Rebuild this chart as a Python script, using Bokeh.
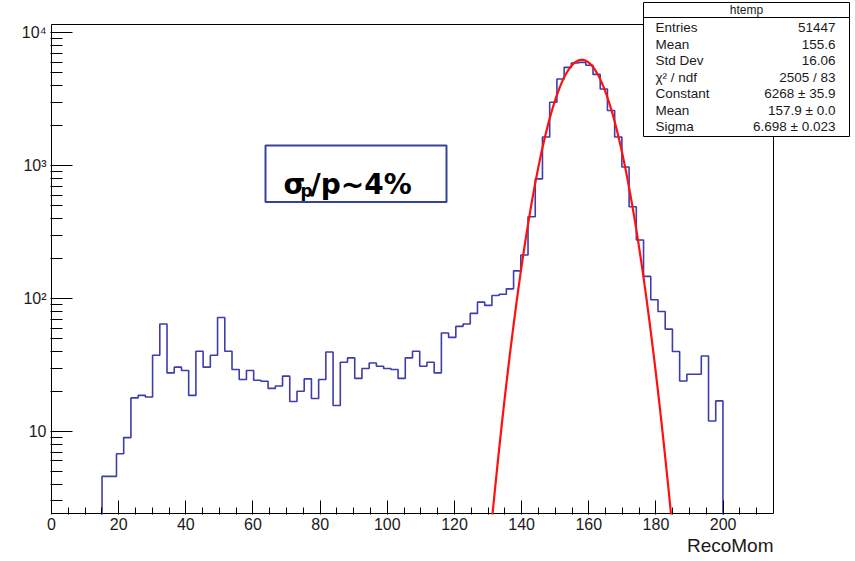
import numpy as np
from bokeh.plotting import figure
from bokeh.models import Range1d, FixedTicker, Title, LinearScale
from bokeh.embed import file_html
from bokeh.resources import INLINE
from bokeh.core.properties import value

# ---------------- data ----------------
x_min, x_max = 0.0, 215.0
n_bins = 100
first_bin = 7  # index of first non-empty bin
counts = [
    4.6, 4.6, 6.8, 9.0, 17.9, 18.7, 18.2, 37.5, 64.4, 27.6,
    30.5, 28.8, 18.7, 40.2, 30.5, 37.5, 72.2, 40.2, 29.3, 24.6,
    28.8, 24.3, 23.9, 21.1, 22.0, 26.1, 16.8, 20.1, 24.9, 17.7,
    24.6, 39.7, 15.7, 33.2, 35.8, 25.1, 29.8, 32.8, 31.0, 29.8,
    29.3, 25.1, 35.8, 40.2, 31.0, 33.2, 27.6, 55.1, 51.1, 61.8,
    64.4, 77.4, 94.1, 88.9, 105.6, 108.0, 118.5, 161.8, 213.0, 413.0,
    796.0, 1644.0, 3006.0, 4497.0, 5500.0, 5930.0, 6000.0, 5700.0, 4870.0, 3785.0,
    2608.0, 1644.0, 979.0, 491.0, 276.0, 147.0, 98.0, 80.0, 59.0, 40.0,
    24.0, 27.0, 27.0, 37.0, 12.0, 17.0,
]
fit_constant = 6268.0
fit_mean = 157.9
fit_sigma = 6.698

stats_title = "htemp"
stats_labels = ["Entries", "Mean", "Std Dev", "\u03c7\u00b2 / ndf", "Constant", "Mean", "Sigma"]
stats_values = ["51447", "155.6", "16.06", "2505 / 83", "6268 \u00b1 35.9", "157.9 \u00b1 0.0", "6.698 \u00b1 0.023"]

x_major = [0, 20, 40, 60, 80, 100, 120, 140, 160, 180, 200]
x_minor_step = 5
y_major = [10, 100, 1000, 10000]
y_major_labels = ["10", "10\u00b2", "10\u00b3", "10\u2074"]
x_title = "RecoMom"

# ---------------- layout (pixels) ----------------
W, H = 855, 561
FL, FR, FT, FB = 51, 773, 24, 513      # ROOT frame
BL, BR, BT, BB = 50, 850, 1, 514       # bokeh frame (extended to hold the stats box)
log_lo, log_hi = 0.383, 4.063

sx = (FR - FL) / (x_max - x_min)
x_range = Range1d(x_min - (FL - BL) / sx, x_max + (BR - FR) / sx)
lp = (log_hi - log_lo) / (FB - FT)
y_range = Range1d(10 ** (log_lo - (BB - FB) * lp), 10 ** (log_hi + (FT - BT) * lp))

p = figure(width=W, height=H, x_range=x_range, y_range=y_range, y_axis_type="log",
           output_backend="svg", toolbar_location=None,
           min_border_left=BL, min_border_right=W - BR, min_border_top=BT, min_border_bottom=H - BB)
p.outline_line_color = None
p.xgrid.visible = False
p.ygrid.visible = False
p.background_fill_color = "white"
p.border_fill_color = "white"

FONT = "Liberation Sans"
LBL = "#1a1a1a"

# x axis
x_minor = [float(v) for v in np.arange(x_min, x_max, x_minor_step) if v not in x_major and v > x_min]
p.xaxis.ticker = FixedTicker(ticks=x_major, minor_ticks=x_minor)
p.xaxis.axis_line_color = None
p.xaxis.major_tick_in = 14
p.xaxis.major_tick_out = 0
p.xaxis.minor_tick_in = 7
p.xaxis.minor_tick_out = 0
p.xaxis.major_tick_line_color = "black"
p.xaxis.minor_tick_line_color = "black"
p.xaxis.major_label_text_font = FONT
p.xaxis.major_label_text_font_size = "16px"
p.xaxis.major_label_text_color = LBL
p.xaxis.major_label_standoff = 3

# y axis
y_minor = [3, 4, 5, 6, 7, 8, 9]
for d in y_major[:-1]:
    y_minor += [d * k for k in range(2, 10)]
p.yaxis.ticker = FixedTicker(ticks=y_major, minor_ticks=y_minor)
p.yaxis.major_label_overrides = {v: s for v, s in zip(y_major, y_major_labels)}
p.yaxis.axis_line_color = None
p.yaxis.major_tick_in = 22
p.yaxis.major_tick_out = 0
p.yaxis.minor_tick_in = 12
p.yaxis.minor_tick_out = 0
p.yaxis.major_tick_line_color = "black"
p.yaxis.minor_tick_line_color = "black"
p.yaxis.major_label_text_font = FONT
p.yaxis.major_label_text_font_size = "16px"
p.yaxis.major_label_text_color = LBL
p.yaxis.major_label_standoff = 4

# ROOT frame
y_lo, y_hi = 10 ** log_lo, 10 ** log_hi
p.quad(left=[x_min], right=[x_max], bottom=[y_lo], top=[y_hi],
       fill_color=None, line_color="black", line_width=1)

# histogram outline
edges = np.linspace(x_min, x_max, n_bins + 1)
floor = y_lo / 10
hx, hy = [edges[first_bin]], [floor]
for i, c in enumerate(counts):
    hx += [edges[first_bin + i], edges[first_bin + i + 1]]
    hy += [c, c]
hx.append(edges[first_bin + len(counts)])
hy.append(floor)
p.line(hx, hy, line_color="#3d3dab", line_width=1.6)

# gaussian fit
xf = np.linspace(fit_mean - 5 * fit_sigma, fit_mean + 5 * fit_sigma, 400)
yf = fit_constant * np.exp(-0.5 * ((xf - fit_mean) / fit_sigma) ** 2)
p.line(xf, yf, line_color="#ff1010", line_width=2.2)

# pixel overlay ranges (linear, y downwards)
p.extra_x_ranges = {"px": Range1d(BL, BR)}
p.extra_y_ranges = {"px": Range1d(BB, BT)}
p.extra_x_scales = {"px": LinearScale()}
p.extra_y_scales = {"px": LinearScale()}
kw = dict(x_range_name="px", y_range_name="px")

# stats box
p.quad(left=[643], right=[849], top=[2], bottom=[136], fill_color="white",
       line_color="black", line_width=1, **kw)
p.segment(x0=[643], y0=[17], x1=[849], y1=[17], line_color="black", line_width=1, **kw)
p.text(x=[746], y=[9.5], text=[stats_title], text_font=value(FONT), text_font_size="12px",
       text_align="center", text_baseline="middle", text_color=LBL, **kw)
rows = [27 + 16.5 * i for i in range(len(stats_labels))]
p.text(x=[655] * len(rows), y=rows, text=stats_labels, text_font=value(FONT),
       text_font_size="13.5px", text_align="left", text_baseline="middle", text_color=LBL, **kw)
p.text(x=[835] * len(rows), y=rows, text=stats_values, text_font=value(FONT),
       text_font_size="13.5px", text_align="right", text_baseline="middle", text_color=LBL, **kw)

# sigma annotation box
p.quad(left=[265], right=[446], top=[145], bottom=[201.5], fill_color="white",
       line_color="#34449a", line_width=2, **kw)
BF = "DejaVu Sans"
p.text(x=[283], y=[184], text=["\u03c3"], text_font=value(BF), text_font_style="bold",
       text_font_size="28px", text_align="left", text_baseline="alphabetic", text_color="black", **kw)
p.text(x=[300], y=[190], text=["p"], text_font=value(BF), text_font_style="bold",
       text_font_size="17px", text_align="left", text_baseline="alphabetic", text_color="black", **kw)
p.text(x=[310], y=[184], text=["/p~4%"], text_font=value(BF), text_font_style="bold",
       text_font_size="28px", text_align="left", text_baseline="alphabetic", text_color="black", **kw)

# x axis title, right-aligned to the ROOT frame
p.add_layout(Title(text=x_title, align="right", offset=BR - FR, standoff=0,
                   text_font=FONT, text_font_size="19px", text_font_style="normal",
                   text_color=LBL), "below")

open("out.html", "w").write(file_html(p, INLINE))
